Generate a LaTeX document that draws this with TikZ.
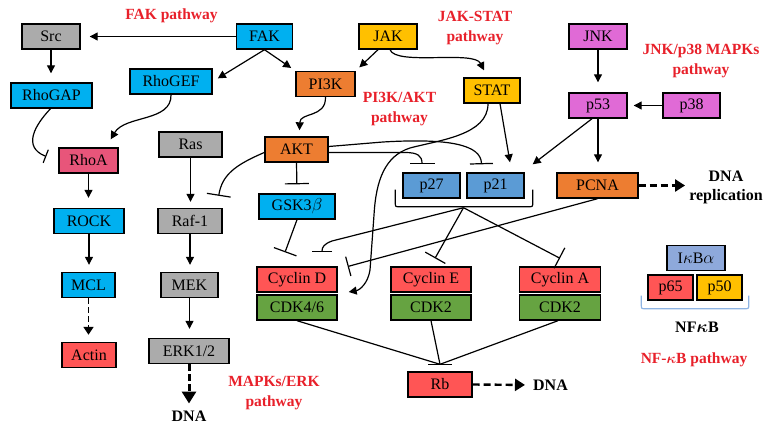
\documentclass[tikz,border=0pt]{standalone}
\usepackage{fontspec}
\usepackage{bm}
\setmainfont{Liberation Serif}
\usetikzlibrary{arrows.meta,calc}
\definecolor{cblue}{HTML}{00B0F0}
\definecolor{cgray}{HTML}{ABABAB}
\definecolor{cpink}{HTML}{E8557A}
\definecolor{cred}{HTML}{FF5555}
\definecolor{corange}{HTML}{ED7D31}
\definecolor{cyellow}{HTML}{FFC000}
\definecolor{cmag}{HTML}{E06AD6}
\definecolor{csteel}{HTML}{5B9BD5}
\definecolor{cgreen}{HTML}{66A341}
\definecolor{clight}{HTML}{8EA9DB}
\definecolor{pathred}{HTML}{E8202A}
\definecolor{bracecol}{HTML}{8EB4E3}
\begin{document}
\begin{tikzpicture}[x=1pt,y=-1pt,
  box/.style={draw=black, line width=1.4pt, minimum height=25pt, inner sep=0pt, font=\fontsize{16}{19}\selectfont},
  lbl/.style={text=pathred, font=\bfseries\fontsize{15.5}{19.5}\selectfont, align=center, inner sep=0pt},
  blk/.style={text=black, font=\bfseries\fontsize{16}{19}\selectfont, align=center, inner sep=0pt},
  conn/.style={line width=1.2pt},
  act/.style={conn, -{Triangle[length=8pt,width=8pt]}},
  inh/.style={conn, -{Bar[width=#1]}},
  inh/.default=24pt,
  dact/.style={line width=1.7pt, dash pattern=on 5.5pt off 3.5pt, -{Triangle[length=8pt,width=10pt]}},
  ddash/.style={line width=2.4pt, dash pattern=on 7pt off 4pt, -{Triangle[length=10pt,width=12pt]}},
]
\useasboundingbox (0,0) rectangle (775,430);

% ---- nodes ----
\node[box, fill=cgray, minimum width=58pt] (src) at (51,36.5) {Src};
\node[box, fill=cblue, minimum width=56pt] (fak) at (264.5,36.5) {FAK};
\node[box, fill=cblue, minimum width=82pt] (rhogef) at (171,81.5) {RhoGEF};
\node[box, fill=cblue, minimum width=81pt] (rhogap) at (51.5,95.5) {RhoGAP};
\node[box, fill=cpink, minimum width=59pt] (rhoa) at (88.5,160.5) {RhoA};
\node[box, fill=cblue, minimum width=70pt] (rock) at (89,221) {ROCK};
\node[box, fill=cblue, minimum width=53pt] (mcl) at (88.5,285) {MCL};
\node[box, fill=cred, minimum width=54pt] (actin) at (89,355) {Actin};
\node[box, fill=cgray, minimum width=63pt] (ras) at (190.5,144.5) {Ras};
\node[box, fill=cgray, minimum width=64pt] (raf) at (190,221) {Raf-1};
\node[box, fill=cgray, minimum width=57pt] (mek) at (189.5,285) {MEK};
\node[box, fill=cgray, minimum width=80pt] (erk) at (189,351) {ERK1/2};
\node[box, fill=cyellow, minimum width=58pt] (jak) at (388,36.5) {JAK};
\node[box, fill=corange, minimum width=59pt] (pik) at (325.5,84) {PI3K};
\node[box, fill=cyellow, minimum width=56pt] (stat) at (492,90.5) {STAT};
\node[box, fill=corange, minimum width=63pt] (akt) at (296.5,149.5) {AKT};
\node[box, fill=cblue, minimum width=76pt] (gsk) at (297,206.5) {GSK3$\beta$};
\node[box, fill=csteel, minimum width=57pt] (p27) at (431.5,185.5) {p27};
\node[box, fill=csteel, minimum width=57pt] (p21) at (495.5,185.5) {p21};
\node[box, fill=cmag, minimum width=58pt] (jnk) at (598,36.5) {JNK};
\node[box, fill=cmag, minimum width=58pt] (p53) at (598,105.5) {p53};
\node[box, fill=cmag, minimum width=57pt] (p38) at (691.5,105.5) {p38};
\node[box, fill=corange, minimum width=81pt] (pcna) at (597.5,185.5) {PCNA};
\node[box, fill=cred, minimum width=80pt] (cycd) at (297,279.5) {Cyclin D};
\node[box, fill=cgreen, minimum width=80pt] (cdk46) at (297,307.5) {CDK4/6};
\node[box, fill=cred, minimum width=80pt] (cyce) at (431,279.5) {Cyclin E};
\node[box, fill=cgreen, minimum width=80pt] (cdk2e) at (431,307.5) {CDK2};
\node[box, fill=cred, minimum width=81pt] (cyca) at (560,279.5) {Cyclin A};
\node[box, fill=cgreen, minimum width=81pt] (cdk2a) at (560,307.5) {CDK2};
\node[box, fill=cred, minimum width=64pt] (rb) at (440,384.5) {Rb};
\node[box, fill=clight, minimum width=58pt] (ikba) at (696,258) {I$\kappa$B$\alpha$};
\node[box, fill=cred, minimum width=45pt] (p65) at (670.5,287.5) {p65};
\node[box, fill=cyellow, minimum width=45pt] (p50) at (719.5,287.5) {p50};

% ---- labels ----
\node[lbl] (lfak) at (171.5,16) {FAK pathway};
\node[lbl] (ljak) at (475,28) {JAK-STAT\\pathway};
\node[lbl] (lpi) at (399.5,109) {PI3K/AKT\\pathway};
\node[lbl] (ljnk) at (701,61) {JNK/p38 MAPKs\\pathway};
\node[lbl] (lmapk) at (274,393) {MAPKs/ERK\\pathway};
\node[lbl] (lnf) at (694,360) {NF-$\bm{\kappa}$B pathway};
\node[blk] (dnae) at (189,416) {DNA};
\node[blk] (dnab) at (550.5,385) {DNA};
\node[blk] (dnar) at (726,187.5) {DNA\\replication};
\node[blk] (nfkb) at (697,327) {NF$\bm{\kappa}$B};

% ---- FAK pathway ----
\draw[act, shorten >=9pt] (fak) -- (src);
\draw[act, shorten >=6pt] (fak.south) -- (rhogef.east);
\draw[act, shorten >=5pt] (fak.south) -- (pik.north west);
\draw[act, shorten >=9pt] (src.south) -- (src.south |- rhogap.north);
\draw[inh=14pt] ($(rhogap.south)+(-1,0)$) .. controls (35,125) and (22,147) .. ($(rhoa.west)+(-12,-4)$);
\draw[act] (rhogef.south) .. controls (172,122) and (125,115) .. ($(rhoa.north east)+(-8,-8)$);
\draw[act, shorten >=10pt] (rhoa.south) -- (rhoa.south |- rock.north);
\draw[act, shorten >=7pt] (rock.south) -- (rock.south |- mcl.north);
\draw[dact, shorten >=7pt] (mcl.south) -- (mcl.south |- actin.north);

% ---- MAPK/ERK ----
\draw[act, shorten >=6pt] (ras.south) -- (ras.south |- raf.north);
\draw[act, shorten >=7pt] (raf.south) -- (raf.south |- mek.north);
\draw[act, shorten >=9pt] (mek.south) -- (mek.south |- erk.north);
\draw[line width=3pt, dash pattern=on 6.5pt off 3.5pt, -{Triangle[length=12pt,width=14pt]}, shorten >=7pt] (erk.south) -- (dnae.north);

% ---- JAK / PI3K / AKT ----
\draw[act, shorten >=5pt] ($(jak.south)+(-10,0)$) -- (pik.north east);
\draw[act] ($(jak.south)+(2,0)$) .. controls (396,66) and (474,50) .. ($(stat.north)+(-8,-7)$);
\draw[act] (pik.south) .. controls (326,118) and (300,112) .. ($(akt.north)+(3,-6)$);
\draw[inh] ($(akt.west)+(0,3)$) .. controls (235,165) and (222,175) .. ($(raf.north east)+(-4,-12)$);
\draw[inh, shorten >=9pt] (akt.south) -- (gsk.north);
\draw[inh] (gsk.south) -- ($(cycd.north)+(-12,-14)$);
\draw[inh=25pt] ($(akt.east)+(0,3)$) -- (405,152.5) .. controls (418,152.5) and (422,156) .. ($(p27.north)+(-9.5,-8)$);
\draw[inh=23pt] ($(akt.east)+(0,-3)$) -- (383,142) .. controls (450,138) and (481,145) .. ($(p21.north)+(-14,-8)$);

% ---- STAT ----
\draw[act] ($(stat.south)+(-4,0)$) .. controls (488,135) and (440,140) .. (410,148)
   .. controls (385,156) and (376,180) .. (374,215) -- (370,270)
   .. controls (368,283) and (360,290) .. ($(cycd.east)+(11,12.5)$);
\draw[act] ($(stat.south)+(8,0)$) -- ($(p21.north)+(14.5,-10)$);

% ---- JNK / p53 ----
\draw[act, shorten >=10pt] (jnk.south) -- (jnk.south |- p53.north);
\draw[act, shorten >=6pt] (p38.west) -- (p53.east);
\draw[act, shorten >=10pt] (p53.south) -- (p53.south |- pcna.north);
\draw[act] ($(p53.south)+(-6,0)$) -- ($(p21.north east)+(8,-8)$);
\draw[ddash, shorten >=4pt] (pcna.east) -- (pcna.east -| dnar.west);
\draw[inh=20pt] (pcna.south) -- ($(cycd.east)+(10,-13)$);

% ---- p27/p21 bracket ----
\coordinate (brk) at ($(p27.south)!0.5!(p21.south)+(0,9)$);
\draw[conn] ($(p27.south west)+(-7,-9)$) -- ($(p27.south west)+(-7,4)$)
   .. controls ($(p27.south west)+(-7,8)$) .. ($(p27.south west)+(-3,8)$)
   -- ($(p21.south east)+(4,8)$)
   .. controls ($(p21.south east)+(8,8)$) .. ($(p21.south east)+(8,4)$)
   -- ($(p21.south east)+(8,-9)$);
\draw[inh=23pt] (brk) -- ($(cyce.north)+(4,-8)$);
\draw[inh=23pt] (brk) -- ($(cyca.north)+(0,-8)$);
\draw[inh=20pt] (brk) -- (332,241) .. controls (324,244) and (322,247) .. ($(cycd.north)+(25,-14)$);

% ---- Rb ----
\coordinate (rbbar) at ($(rb.north)+(0,-7)$);
\draw[conn] (cdk46.south) -- (rbbar);
\draw[conn] (cdk2e.south) -- (rbbar);
\draw[conn] ($(cdk2a.south)+(-2,0)$) -- (rbbar);
\draw[conn] ($(rbbar)+(-12,0)$) -- ($(rbbar)+(12,0)$);
\draw[ddash, shorten >=8pt] (rb.east) -- (dnab.west);

% ---- NF-kB bracket ----
\draw[bracecol, line width=1.2pt] ($(p65.south west)+(-6,-5)$) -- ($(p65.south west)+(-6,4)$)
   .. controls ($(p65.south west)+(-6,8)$) .. ($(p65.south west)+(-2,8)$)
   -- ($(p50.south east)+(2,8)$)
   .. controls ($(p50.south east)+(6,8)$) .. ($(p50.south east)+(6,4)$)
   -- ($(p50.south east)+(6,-5)$);
\end{tikzpicture}
\end{document}
